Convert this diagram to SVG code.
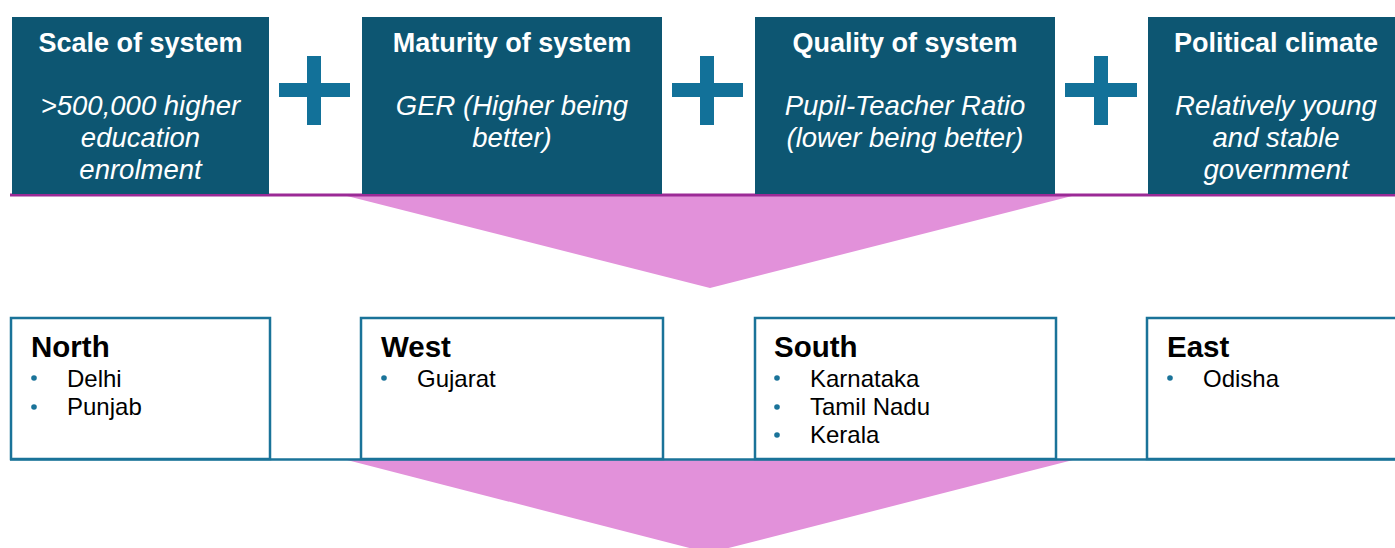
<svg xmlns="http://www.w3.org/2000/svg" width="1395" height="548" viewBox="0 0 1395 548">
<style>
.top{fill:#0d5672}
.plus{fill:#127199}
.pink{fill:#e291da}
.h{font-family:"Liberation Sans",Arial,sans-serif;font-weight:bold;font-size:27px;fill:#fff;text-anchor:middle}
.i{font-family:"Liberation Sans",Arial,sans-serif;font-style:italic;font-size:27.5px;fill:#fff;text-anchor:middle}
.box{fill:#fff;stroke:#1a7399;stroke-width:2.5}
.rt{font-family:"Liberation Sans",Arial,sans-serif;font-weight:bold;font-size:29.5px;fill:#000}
.it{font-family:"Liberation Sans",Arial,sans-serif;font-size:24px;fill:#000}
.dot{fill:#1a7399}
</style>
<rect width="1395" height="548" fill="#fff"/>
<g id="connectors">
<polygon class="pink" points="347,196 1072,196 710,288"/>
<polygon class="pink" points="347,460 1073,460 709,553"/>
<line x1="10" y1="195" x2="1395" y2="195" stroke="#9b2a96" stroke-width="3"/>
<line x1="10" y1="459.5" x2="1395" y2="459.5" stroke="#1a7399" stroke-width="2.5"/>
<g id="plus1" class="plus"><rect x="307" y="56" width="14" height="69"/><rect x="279" y="83" width="71" height="14"/></g>
<g id="plus2" class="plus"><rect x="700" y="56" width="14" height="69"/><rect x="672" y="83" width="71" height="14"/></g>
<g id="plus3" class="plus"><rect x="1094" y="56" width="14" height="69"/><rect x="1065" y="83" width="72" height="14"/></g>
</g>
<g id="scale">
<rect class="top" x="12" y="17" width="257" height="177"/>
<text class="h" x="140.5" y="52">Scale of system</text>
<text class="i" x="140.5" y="115">&gt;500,000 higher</text>
<text class="i" x="140.5" y="147">education</text>
<text class="i" x="140.5" y="179">enrolment</text>
</g>
<g id="maturity">
<rect class="top" x="362" y="17" width="300" height="177"/>
<text class="h" x="512" y="52">Maturity of system</text>
<text class="i" x="512" y="115">GER (Higher being</text>
<text class="i" x="512" y="147">better)</text>
</g>
<g id="quality">
<rect class="top" x="755" y="17" width="300" height="177"/>
<text class="h" x="905" y="52">Quality of system</text>
<text class="i" x="905" y="115">Pupil-Teacher Ratio</text>
<text class="i" x="905" y="147">(lower being better)</text>
</g>
<g id="political">
<rect class="top" x="1148" y="17" width="256" height="177"/>
<text class="h" x="1276" y="52">Political climate</text>
<text class="i" x="1276" y="115">Relatively young</text>
<text class="i" x="1276" y="147">and stable</text>
<text class="i" x="1276" y="179">government</text>
</g>
<g id="north">
<rect class="box" x="11" y="318" width="259" height="141"/>
<text class="rt" x="31" y="357">North</text>
<circle class="dot" cx="34" cy="378" r="2.8"/><text class="it" x="67" y="387">Delhi</text>
<circle class="dot" cx="34" cy="407" r="2.8"/><text class="it" x="67" y="415">Punjab</text>
</g>
<g id="west">
<rect class="box" x="361" y="318" width="302" height="141"/>
<text class="rt" x="381" y="357">West</text>
<circle class="dot" cx="384" cy="378" r="2.8"/><text class="it" x="417" y="387">Gujarat</text>
</g>
<g id="south">
<rect class="box" x="755" y="318" width="301" height="141"/>
<text class="rt" x="774" y="357">South</text>
<circle class="dot" cx="777" cy="378" r="2.8"/><text class="it" x="810" y="387">Karnataka</text>
<circle class="dot" cx="777" cy="407" r="2.8"/><text class="it" x="810" y="415">Tamil Nadu</text>
<circle class="dot" cx="777" cy="435" r="2.8"/><text class="it" x="810" y="443">Kerala</text>
</g>
<g id="east">
<rect class="box" x="1147" y="318" width="260" height="141"/>
<text class="rt" x="1167" y="357">East</text>
<circle class="dot" cx="1170" cy="378" r="2.8"/><text class="it" x="1203" y="387">Odisha</text>
</g>
</svg>
